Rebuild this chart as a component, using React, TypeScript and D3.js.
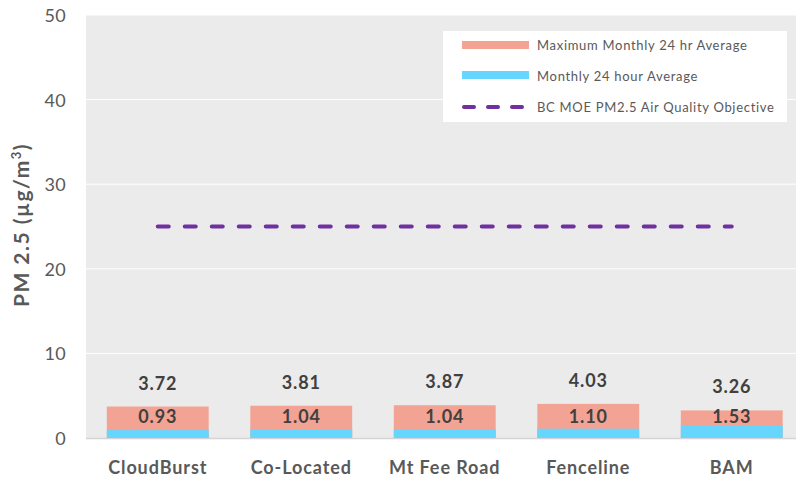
import React from "react";
import * as d3 from "d3";

const categories = ["CloudBurst", "Co-Located", "Mt Fee Road", "Fenceline", "BAM"];
const maxMonthly = [3.72, 3.81, 3.87, 4.03, 3.26];
const avgMonthly = [0.93, 1.04, 1.04, 1.1, 1.53];
const objective = 25;
const yTicks = [0, 10, 20, 30, 40, 50];
const legendLabels = [
  "Maximum Monthly 24 hr Average",
  "Monthly 24 hour Average",
  "BC MOE PM2.5 Air Quality Objective",
];

const W = 796;
const H = 478;
const PINK = "#F2A394";
const BLUE = "#66D6FE";
const PURPLE = "#7030A0";
const FONT = "Lato, 'Open Sans', sans-serif";

export default function App() {
  const plotL = 86;
  const plotT = 15;
  const plotB = 438;
  const x = d3
    .scaleBand<string>()
    .domain(categories)
    .range([plotL, plotL + 5 * 143.5])
    .paddingInner(0.29)
    .paddingOuter(0.145);
  const y = d3.scaleLinear().domain([0, 50]).range([plotB, plotT]);
  const bw = x.bandwidth();
  const cx = (c: string) => (x(c) as number) + bw / 2;

  const lineGen = d3
    .line<number>()
    .x((_, i) => cx(categories[i]))
    .y((v) => y(v));
  const objData = categories.map(() => objective);

  return (
    <svg
      width={W}
      height={H}
      style={{ position: "absolute", left: 0, top: 0, background: "#fff" }}
      fontFamily={FONT}
    >
      <rect x={plotL} y={plotT} width={W - plotL} height={plotB - plotT} fill="#EBEBEB" />
      {yTicks.slice(1).map((t) => (
        <line key={t} x1={plotL} x2={W} y1={y(t)} y2={y(t)} stroke="#fff" strokeWidth={1} />
      ))}
      <line x1={plotL} x2={W} y1={plotB + 0.5} y2={plotB + 0.5} stroke="#D4D4D4" strokeWidth={1.5} />
      {yTicks.map((t) => (
        <text
          key={t}
          x={66}
          y={y(t)}
          textAnchor="end"
          dominantBaseline="central"
          fontSize={18}
          letterSpacing={0.3}
          fill="#595959"
        >
          {t}
        </text>
      ))}
      <text
        transform={`translate(29,225) rotate(-90)`}
        textAnchor="middle"
        fontSize={21}
        letterSpacing={1.5}
        fontWeight="bold"
        fill="#595959"
      >
        PM 2.5 (µg/m<tspan baselineShift="super" fontSize={13}>3</tspan>)
      </text>
      {categories.map((c, i) => (
        <g key={c}>
          <rect x={x(c)} y={y(maxMonthly[i])} width={bw} height={plotB - y(maxMonthly[i])} fill={PINK} />
          <rect x={x(c)} y={y(avgMonthly[i])} width={bw} height={plotB - y(avgMonthly[i])} fill={BLUE} />
          <text
            x={cx(c)}
            y={y(maxMonthly[i]) - 17}
            textAnchor="middle"
            fontSize={18}
            letterSpacing={0.8}
            fontWeight="bold"
            fill="#404040"
          >
            {maxMonthly[i].toFixed(2)}
          </text>
          <text
            x={cx(c)}
            y={plotB - 15}
            textAnchor="middle"
            fontSize={18}
            letterSpacing={0.8}
            fontWeight="bold"
            fill="#404040"
          >
            {avgMonthly[i].toFixed(2)}
          </text>
          <text
            x={cx(c)}
            y={474}
            textAnchor="middle"
            fontSize={18}
            letterSpacing={0.9}
            fontWeight="bold"
            fill="#595959"
          >
            {c}
          </text>
        </g>
      ))}
      <path
        d={lineGen(objData) || ""}
        fill="none"
        stroke={PURPLE}
        strokeWidth={4}
        strokeDasharray="11 16"
        strokeLinecap="round"
      />
      <rect x={443} y={31} width={344} height={91} fill="#fff" />
      <rect x={462} y={41} width={67} height={8} fill={PINK} />
      <rect x={462} y={71} width={67} height={8} fill={BLUE} />
      <line
        x1={464}
        x2={529}
        y1={107}
        y2={107}
        stroke={PURPLE}
        strokeWidth={4}
        strokeDasharray="10 14"
        strokeLinecap="round"
      />
      {legendLabels.map((l, i) => (
        <text
          key={l}
          x={537}
          y={45 + i * 31}
          dominantBaseline="central"
          fontSize={13}
          letterSpacing={0.7}
          fill="#595959"
        >
          {l}
        </text>
      ))}
    </svg>
  );
}
